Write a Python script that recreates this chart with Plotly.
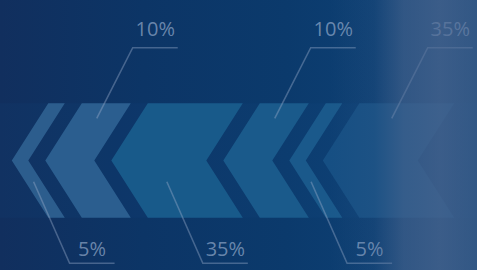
import numpy as np
import plotly.graph_objects as go

# ---------------- data ----------------
segments = ["A", "B", "C", "D", "E", "F"]
values = [5, 10, 35, 10, 5, 35]
value_labels = ["5%", "10%", "35%", "10%", "5%", "35%"]

# ---------------- style / geometry constants ----------------
W, H = 477, 270
BAND_TOP, BAND_BOT = 103.3, 217.7
MID = (BAND_TOP + BAND_BOT) / 2
APEX = 36.5          # horizontal depth of the chevron notch
GAP = 17.0           # gap between chevrons
START = 48.3         # top-left corner of first chevron
# non-linear length scale for a chevron (value -> px)
SCALE_IN = [0, 5, 10, 35]
SCALE_OUT = [0, 16.5, 49, 95]

chev_colors = ["#2c5d8d", "#2b5e8f", "#185a8a", "#1a5a8b", "#1a598b", "#164f83"]
label_color = "rgba(165,185,215,0.62)"
line_color = "rgba(150,170,200,0.42)"

fig = go.Figure()

# background
fig.add_trace(go.Scatter(
    x=[0, W, W, 0, 0], y=[0, 0, H, H, 0], mode="lines", line=dict(width=0),
    fill="toself",
    fillgradient=dict(type="horizontal", colorscale=[
        [0.0, "#112f5e"], [0.3, "#0c3566"], [0.6, "#0b3a6c"],
        [0.8, "#0d4074"], [1.0, "#0f4376"]]),
    hoverinfo="skip", showlegend=False))

# subtle band behind chevrons
fig.add_trace(go.Scatter(
    x=[0, W, W, 0, 0], y=[BAND_TOP, BAND_TOP, BAND_BOT, BAND_BOT, BAND_TOP],
    mode="lines", line=dict(width=0), fill="toself",
    fillcolor="rgba(30,95,155,0.08)", hoverinfo="skip", showlegend=False))

lengths = np.interp(values, SCALE_IN, SCALE_OUT)
lefts = []
x = START
for ln in lengths:
    lefts.append(x)
    x += ln + GAP

# chevrons
for i, (L, w) in enumerate(zip(lefts, lengths)):
    xs = [L, L + w, L + w - APEX, L + w, L, L - APEX, L]
    ys = [BAND_TOP, BAND_TOP, MID, BAND_BOT, BAND_BOT, MID, BAND_TOP]
    fig.add_trace(go.Scatter(
        x=xs, y=ys, mode="lines", line=dict(width=0), fill="toself",
        fillcolor=chev_colors[i], hoverinfo="skip", showlegend=False))

# leader lines and labels
lx, ly, tx, ty = [], [], [], []
for i, (L, w) in enumerate(zip(lefts, lengths)):
    top = (i % 2 == 1)
    if top:
        ya = 118.3
        edge = L - APEX * (ya - BAND_TOP) / (MID - BAND_TOP)
        yk, ytext = 47.7, 31.0
    else:
        ya = 181.7
        edge = L - APEX * (BAND_BOT - ya) / (BAND_BOT - MID)
        yk, ytext = 263.3, 250.5
    xa = edge + min(w / 2, 42)
    lx += [xa, xa + 36, xa + 81, None]
    ly += [ya, yk, yk, None]
    tx.append(xa + 58.5)
    ty.append(ytext)

fig.add_trace(go.Scatter(x=lx, y=ly, mode="lines",
                         line=dict(color=line_color, width=1.6),
                         hoverinfo="skip", showlegend=False))
fig.add_trace(go.Scatter(x=tx, y=ty, mode="text", text=value_labels,
                         textposition="middle center",
                         textfont=dict(family="Open Sans", size=20, color=label_color),
                         hoverinfo="skip", showlegend=False))

# light haze on the right side
fig.add_trace(go.Scatter(
    x=[330, W, W, 330, 330], y=[0, 0, H, H, 0], mode="lines", line=dict(width=0),
    fill="toself",
    fillgradient=dict(type="horizontal", colorscale=[
        [0.0, "rgba(78,104,145,0)"], [0.3, "rgba(78,104,145,0.12)"],
        [0.5, "rgba(78,104,145,0.55)"], [0.75, "rgba(78,104,145,0.7)"],
        [1.0, "rgba(78,104,145,0.55)"]]),
    hoverinfo="skip", showlegend=False))

fig.update_layout(
    width=W, height=H, margin=dict(l=0, r=0, t=0, b=0),
    paper_bgcolor="#0c3566", plot_bgcolor="#0c3566",
    xaxis=dict(range=[0, W], visible=False, fixedrange=True),
    yaxis=dict(range=[H, 0], visible=False, fixedrange=True),
    showlegend=False,
)

fig.write_html("out.html", config={"displayModeBar": False, "staticPlot": True},
               post_script="document.body.style.margin='0';document.body.style.overflow='hidden';")
